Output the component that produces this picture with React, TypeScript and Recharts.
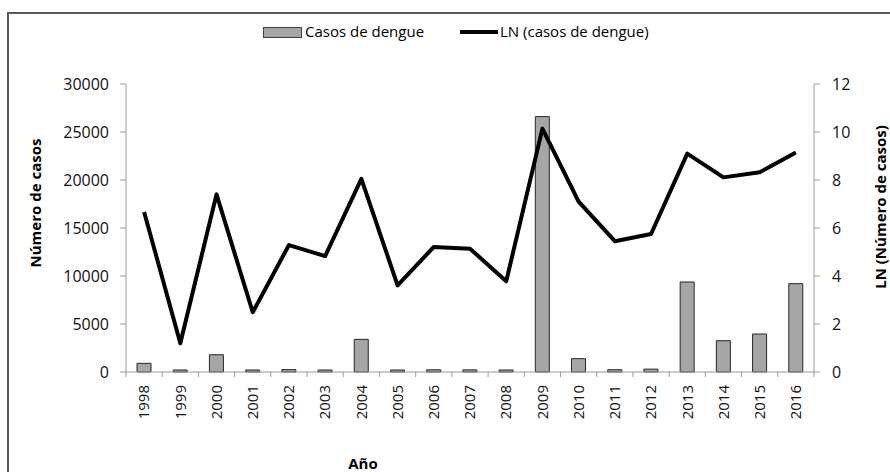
import React from 'react';
import { ComposedChart, Bar, Line, XAxis, YAxis, Label } from 'recharts';

const years = ['1998', '1999', '2000', '2001', '2002', '2003', '2004', '2005', '2006', '2007', '2008', '2009', '2010', '2011', '2012', '2013', '2014', '2015', '2016'];
const casos = [900, 5, 1800, 12, 250, 130, 3400, 37, 230, 220, 44, 26600, 1390, 240, 300, 9375, 3260, 3960, 9200];
const lnCasos = [6.67, 1.2, 7.4, 2.49, 5.29, 4.83, 8.05, 3.61, 5.21, 5.14, 3.78, 10.14, 7.1, 5.45, 5.75, 9.1, 8.11, 8.32, 9.15];
const leftTicks = [0, 5000, 10000, 15000, 20000, 25000, 30000];
const rightTicks = [0, 2, 4, 6, 8, 10, 12];

const data = years.map((year, i) => ({ year, casos: casos[i], ln: lnCasos[i] }));

const FONT = '"Open Sans", "Noto Sans", sans-serif';
const AXIS_GRAY = '#9a9a9a';
// plot spans x 126..814 -> width of one category band
const BAND = 688 / years.length;

const YearTick = (props: any) => {
  const { x, y, payload, index } = props;
  const ty = y + 13;
  return (
    <g>
      <line x1={x - BAND / 2} x2={x - BAND / 2} y1={y} y2={y + 5} stroke={AXIS_GRAY} />
      {index === years.length - 1 && (
        <line x1={x + BAND / 2} x2={x + BAND / 2} y1={y} y2={y + 5} stroke={AXIS_GRAY} />
      )}
      <text
        x={x}
        y={ty}
        dy="0.35em"
        transform={`rotate(-90 ${x} ${ty})`}
        textAnchor="end"
        fontSize={15}
        fontFamily={FONT}
        fill="#111"
      >
        {payload.value}
      </text>
    </g>
  );
};

const Title = ({ x, y, text, vertical }: { x: number; y: number; text: string; vertical?: boolean }) => (
  <text
    x={x}
    y={y}
    transform={vertical ? `rotate(-90 ${x} ${y})` : undefined}
    textAnchor="middle"
    dominantBaseline="central"
    fontSize={15}
    fontWeight={700}
    fontFamily={FONT}
    fill="#000"
  >
    {text}
  </text>
);

const tickStyle = { fontSize: 16, fontFamily: FONT, fill: '#111' };

export default function App() {
  return (
    <div style={{ position: 'absolute', left: 0, top: 0, width: 890, height: 472, overflow: 'hidden', background: '#fff' }}>
      <div
        style={{
          position: 'absolute',
          left: 7,
          top: 12,
          width: 950,
          height: 520,
          borderLeft: '2px solid #595959',
          borderTop: '2px solid #595959',
        }}
      />
      <div
        style={{
          position: 'absolute',
          top: 22,
          left: 0,
          width: 890,
          height: 20,
          fontFamily: FONT,
          fontSize: 15,
          color: '#000',
        }}
      >
        <div style={{ position: 'absolute', left: 263, top: 5, width: 37, height: 9, background: '#a6a6a6', border: '1px solid #404040' }} />
        <div style={{ position: 'absolute', left: 305, top: -1, whiteSpace: 'nowrap' }}>Casos de dengue</div>
        <div style={{ position: 'absolute', left: 460, top: 8, width: 38, height: 4, background: '#000' }} />
        <div style={{ position: 'absolute', left: 500, top: -1, whiteSpace: 'nowrap' }}>LN (casos de dengue)</div>
      </div>
      <ComposedChart
        width={890}
        height={472}
        data={data}
        margin={{ top: 84, right: 0, bottom: 0, left: 0 }}
        style={{ position: 'absolute', left: 0, top: 0 }}
      >
        <XAxis
          dataKey="year"
          interval={0}
          height={100}
          tickSize={0}
          tickMargin={0}
          tickLine={false}
          axisLine={{ stroke: AXIS_GRAY }}
          tick={<YearTick />}
        >
          <Label content={() => <Title x={363} y={463} text="Año" />} />
        </XAxis>
        <YAxis
          yAxisId="left"
          domain={[0, 30000]}
          ticks={leftTicks}
          width={126}
          tickSize={6}
          tickMargin={11}
          axisLine={{ stroke: AXIS_GRAY }}
          tickLine={{ stroke: AXIS_GRAY }}
          tick={tickStyle}
        >
          <Label content={() => <Title x={35} y={203} text="Número de casos" vertical />} />
        </YAxis>
        <YAxis
          yAxisId="right"
          orientation="right"
          domain={[0, 12]}
          ticks={rightTicks}
          width={76}
          tickSize={6}
          tickMargin={12}
          axisLine={{ stroke: AXIS_GRAY }}
          tickLine={{ stroke: AXIS_GRAY }}
          tick={{ ...tickStyle, textAnchor: 'start' }}
        >
          <Label content={() => <Title x={880} y={207} text="LN (Número de casos)" vertical />} />
        </YAxis>
        <Bar
          yAxisId="left"
          dataKey="casos"
          barSize={14}
          minPointSize={2}
          fill="#a6a6a6"
          stroke="#262626"
          strokeWidth={1}
          isAnimationActive={false}
        />
        <Line
          yAxisId="right"
          dataKey="ln"
          type="linear"
          stroke="#000"
          strokeWidth={4}
          strokeLinejoin="round"
          dot={false}
          activeDot={false}
          isAnimationActive={false}
        />
      </ComposedChart>
    </div>
  );
}
